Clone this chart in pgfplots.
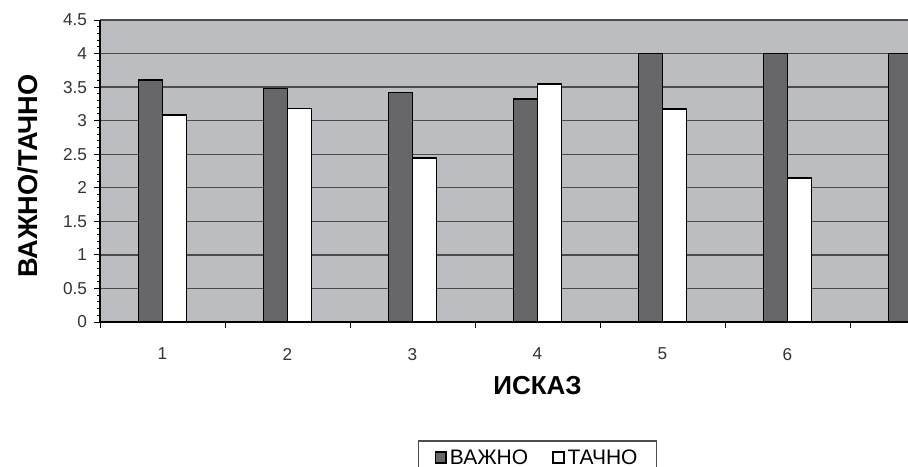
\documentclass[border=0pt]{standalone}
\usepackage{pgfplots}
\pgfplotsset{compat=1.18}
\usepackage{fontspec}
\setmainfont{Liberation Sans}
\definecolor{bgc}{RGB}{188,189,193}
\definecolor{barc}{RGB}{103,103,105}
\definecolor{gridc}{RGB}{75,75,78}
\pgfplotsset{sqlegend/.style={legend image code/.code={\draw[##1] (0pt,-1.9pt) rectangle (5.3pt,3.4pt);}}}
\begin{document}
\begin{tikzpicture}
\begin{axis}[
  scale only axis, width=404pt, height=151pt,
  at={(0,0)}, anchor=south west,
  xmin=0.5, xmax=6.964, ymin=0, ymax=4.5,
  ybar=0pt, bar width=12pt,
  axis lines*=left, axis line style={-, black, line width=0.6pt},
  axis background/.style={fill=bgc},
  tick align=outside,
  major tick length=3pt, minor tick length=1.6pt,
  tick style={black, line width=0.5pt},
  ytick={0,0.5,1,1.5,2,2.5,3,3.5,4,4.5},
  yticklabels={0,0.5,1,1.5,2,2.5,3,3.5,4,4.5},
  minor y tick num=4,
  ymajorgrids, major grid style={gridc, line width=0.7pt},
  xtick={0.5,1.5,2.5,3.5,4.5,5.5,6.5},
  xticklabels={},
  extra x ticks={1,2,3,4,5,6,7},
  extra x tick labels={1,2,3,4,5,6,7},
  extra x tick style={tick style={draw=none}, xticklabel style={yshift=-6.5pt}},
  /pgf/number format/assume math mode=true,
  tick label style={font=\fontsize{8.6}{9}\selectfont, text=black!80},
  ylabel={ВАЖНО/ТАЧНО},
  ylabel style={font=\fontsize{13.6}{15}\selectfont\bfseries, at={(axis description cs:-0.0891,0.483)}, anchor=center},
  xlabel={ИСКАЗ},
  xlabel style={font=\fontsize{13}{15}\selectfont\bfseries, at={(axis description cs:0.5415,-0.212)}, anchor=center},
  legend columns=2,
  legend style={at={(axis description cs:0.5415,-0.392)}, anchor=north, draw=black!70, line width=0.6pt,
    font=\fontsize{10.5}{12}\selectfont, nodes={inner sep=1.5pt}, inner xsep=8pt, inner ysep=3pt,
    /tikz/every even column/.append style={column sep=10.5pt}},
]
\addplot[fill=barc, draw=black, line width=0.9pt, sqlegend] coordinates {(1,3.61) (2,3.48) (3,3.42) (4,3.32) (5,4.0) (6,4.0) (7,4.0)};
\addplot[fill=white, draw=black, line width=0.9pt, sqlegend] coordinates {(1,3.08) (2,3.18) (3,2.44) (4,3.55) (5,3.17) (6,2.15)};
\legend{ВАЖНО, ТАЧНО}
\coordinate (t7) at (axis cs:7,0);
\end{axis}
\node[font=\fontsize{8.6}{9}\selectfont, text=black!80, anchor=center, yshift=-16.5pt] at (t7) {7};
\pgfresetboundingbox
\useasboundingbox (-50pt,-72pt) rectangle (404pt,161pt);
\end{tikzpicture}
\end{document}
